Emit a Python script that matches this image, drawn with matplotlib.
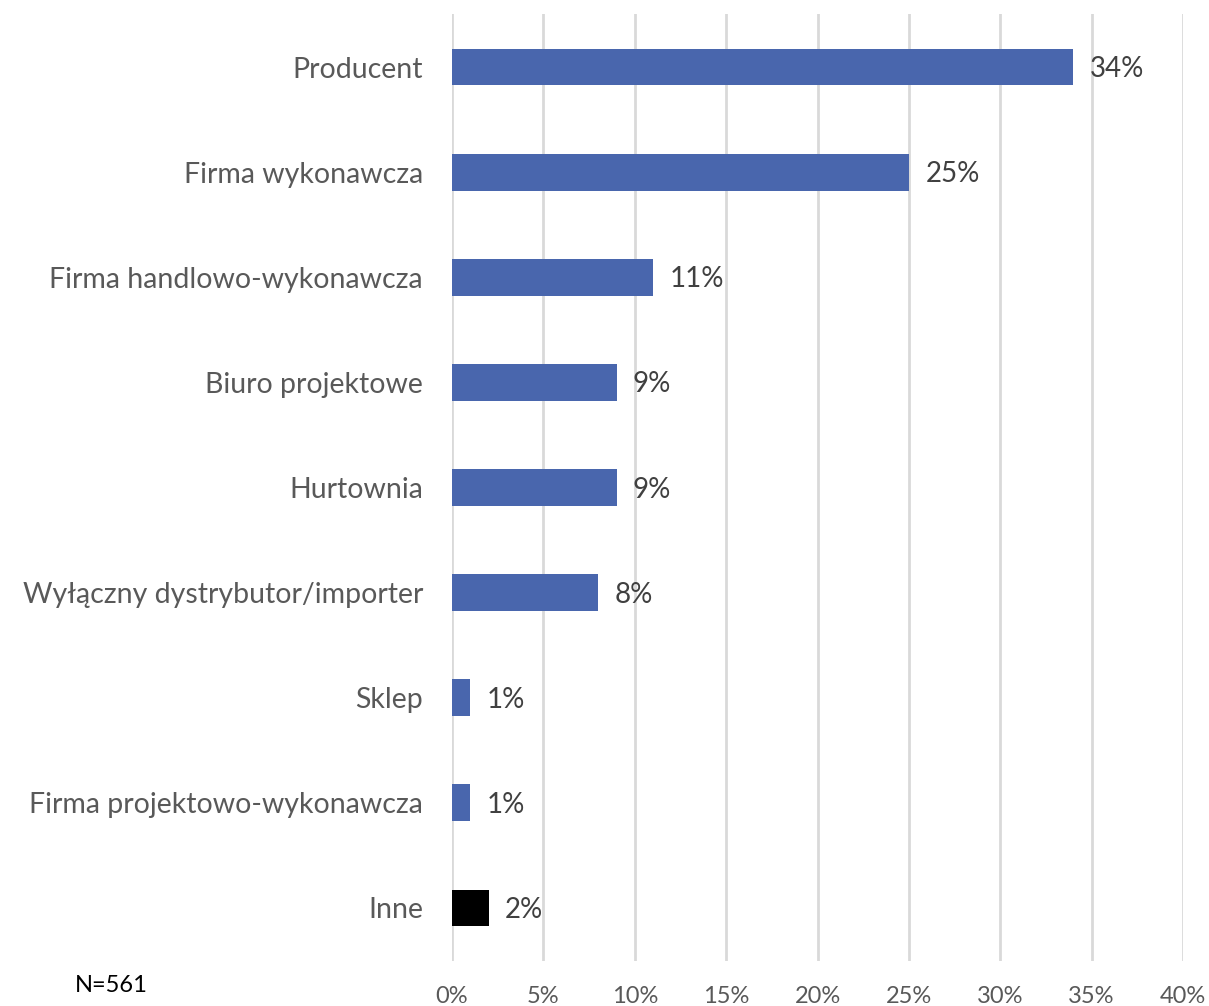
import matplotlib
matplotlib.use("Agg")
import matplotlib.pyplot as plt
from matplotlib.ticker import MultipleLocator, FuncFormatter

plt.rcParams['font.family'] = ['Lato', 'DejaVu Sans']

# data (top to bottom)
categories = ["Producent", "Firma wykonawcza", "Firma handlowo-wykonawcza",
              "Biuro projektowe", "Hurtownia", "Wyłączny dystrybutor/importer",
              "Sklep", "Firma projektowo-wykonawcza", "Inne"]
values = [34, 25, 11, 9, 9, 8, 1, 1, 2]
bar_colors = ["#4966AD"] * 8 + ["#000000"]

fig = plt.figure(figsize=(12.09, 10.06), dpi=100)
ax = fig.add_axes([0.3739, 0.0452, 0.6046, 0.9404])

y = list(range(len(categories)))
ax.barh(y, values, height=0.35, color=bar_colors, zorder=3)

for yi, v in zip(y, values):
    ax.text(v + 0.9, yi + 0.02, f"{v}%", va='center', ha='left',
            fontsize=20, color='#404040')

ax.set_ylim(len(categories) - 0.5, -0.5)
ax.set_xlim(0, 40)
ax.xaxis.set_major_locator(MultipleLocator(5))
ax.xaxis.set_major_formatter(FuncFormatter(lambda x, p: f"{x:.0f}%"))
ax.grid(axis='x', color='#D9D9D9', linewidth=2, zorder=0)
ax.set_yticks(y)
ax.set_yticklabels(categories)
ax.tick_params(axis='y', length=0, pad=21, labelsize=20.5, labelcolor='#595959')
ax.tick_params(axis='x', length=0, pad=18, labelsize=17, labelcolor='#595959')
for s in ax.spines.values():
    s.set_visible(False)

fig.text(75 / 1209, 1 - 986 / 1006, "N=561", fontsize=17, color='#000000',
         va='center', ha='left')

fig.savefig("out.png", dpi=100)
